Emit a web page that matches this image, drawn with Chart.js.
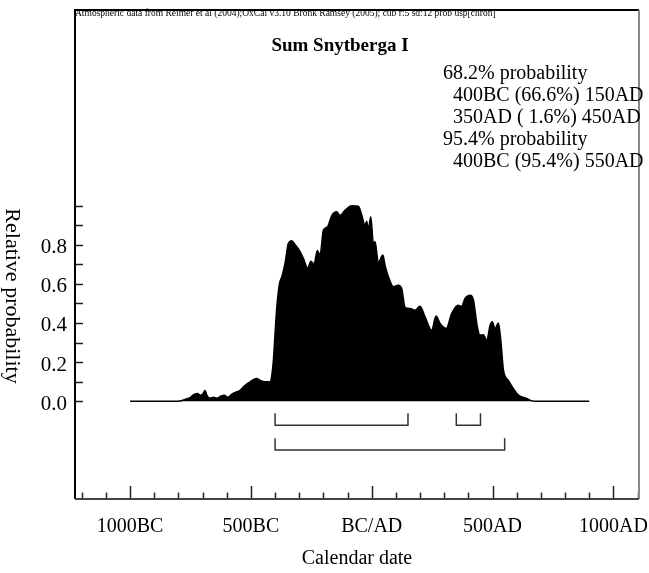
<!DOCTYPE html>
<html>
<head>
<meta charset="utf-8">
<script src="https://cdn.jsdelivr.net/npm/chart.js@4.4.1/dist/chart.umd.min.js"></script>
<style>
  body { margin: 0; background: #fff; }
</style>
</head>
<body>
<canvas id="chartSum" width="649" height="573"></canvas>
<script>
// calendar years (negative = BC) and relative probability
const years = [-1000, -800, -790, -770, -750, -735, -720, -710, -700, -690, -682, -670, -655, -640, -625, -610, -595, -580, -565, -555, -545, -530, -515, -503, -490, -476, -460, -441, -430, -421, -415, -407, -400, -393, -382, -372, -359, -345, -331, -317, -299, -283, -265, -252, -239, -225, -214, -200, -184, -165, -145, -131, -110, -83, -55, -41, -28, -21, -14, -4, 7, 14, 27, 46, 55, 69, 90, 110, 124, 138, 159, 179, 200, 221, 248, 266, 283, 308, 331, 358, 372, 386, 407, 421, 437, 448, 462, 476, 490, 499, 510, 524, 534, 545, 565, 586, 607, 641, 660, 680, 900]
const probs = [0, 0, 0.002, 0.01, 0.02, 0.035, 0.04, 0.03, 0.035, 0.055, 0.03, 0.015, 0.02, 0.015, 0.025, 0.03, 0.02, 0.035, 0.045, 0.05, 0.056, 0.075, 0.09, 0.099, 0.11, 0.116, 0.105, 0.099, 0.1, 0.1, 0.12, 0.21, 0.35, 0.48, 0.60, 0.636, 0.704, 0.807, 0.82, 0.80, 0.77, 0.73, 0.68, 0.716, 0.70, 0.77, 0.747, 0.875, 0.89, 0.95, 0.968, 0.95, 0.977, 0.999, 0.997, 0.95, 0.90, 0.92, 0.88, 0.943, 0.807, 0.815, 0.71, 0.747, 0.696, 0.636, 0.585, 0.593, 0.576, 0.48, 0.474, 0.465, 0.486, 0.43, 0.363, 0.435, 0.397, 0.372, 0.449, 0.49, 0.485, 0.525, 0.542, 0.517, 0.38, 0.338, 0.34, 0.312, 0.389, 0.406, 0.37, 0.40, 0.312, 0.159, 0.107, 0.065, 0.031, 0.014, 0.003, 0, 0]

// highest probability ranges
const range68 = [[-400, 150], [350, 450]]
const range95 = [[-400, 550]]

const xTickYears = [-1000, -500, 0, 500, 1000]
const yTickValues = [0, 0.2, 0.4, 0.6, 0.8]

const headerText = 'Atmospheric data from Reimer et al (2004);OxCal v3.10 Bronk Ramsey (2005); cub r:5 sd:12 prob usp[chron]'
const titleText = 'Sum Snytberga I'
const rangeText = [
  '68.2% probability',
  '  400BC (66.6%) 150AD',
  '  350AD ( 1.6%) 450AD',
  '95.4% probability',
  '  400BC (95.4%) 550AD'
]

Chart.defaults.font.family = "'Liberation Serif', 'DejaVu Serif', serif"
Chart.defaults.color = '#000'

function bracket(r, top, bottom) {
  return {
    data: [{x: r[0], y: top}, {x: r[0], y: bottom}, {x: r[1], y: bottom}, {x: r[1], y: top}],
    borderColor: '#333',
    borderWidth: 1.5,
    pointRadius: 0,
    fill: false,
    tension: 0
  }
}

const datasets = [{
  data: years.map((y, i) => ({x: y, y: probs[i]})),
  borderColor: '#000',
  backgroundColor: '#000',
  borderWidth: 1.5,
  pointRadius: 0,
  fill: 'origin',
  cubicInterpolationMode: 'monotone'
}]
range68.forEach(r => datasets.push(bracket(r, -0.061, -0.123)))
range95.forEach(r => datasets.push(bracket(r, -0.189, -0.25)))

function yearLabel(v) {
  if (v === 0) return 'BC/AD'
  return v < 0 ? (-v) + 'BC' : v + 'AD'
}

function noPad(s) {
  s.paddingLeft = 0
  s.paddingRight = 0
  s.paddingTop = 0
  s.paddingBottom = 0
}

// frame, tick marks and the free text
const oxcalDecor = {
  id: 'oxcalDecor',
  afterDraw(chart) {
    const ctx = chart.ctx
    const a = chart.chartArea
    const xs = chart.scales.x
    const ys = chart.scales.y
    ctx.save()

    // tick marks
    ctx.strokeStyle = '#222'
    ctx.lineWidth = 1.5
    for (let v = -1200; v <= 1100; v += 100) {
      const px = Math.round(xs.getPixelForValue(v)) + 0.5
      const len = v % 500 === 0 ? 13 : 6.5
      ctx.beginPath()
      ctx.moveTo(px, a.bottom)
      ctx.lineTo(px, a.bottom - len)
      ctx.stroke()
    }
    for (let i = 0; i <= 10; i++) {
      const py = Math.round(ys.getPixelForValue(i / 10)) + 0.5
      ctx.beginPath()
      ctx.moveTo(a.left, py)
      ctx.lineTo(a.left + 8, py)
      ctx.stroke()
    }

    // frame
    ctx.lineWidth = 2
    ctx.strokeStyle = '#000'
    ctx.beginPath()
    ctx.moveTo(a.left, a.bottom)
    ctx.lineTo(a.left, a.top)
    ctx.lineTo(a.right, a.top)
    ctx.stroke()
    ctx.strokeStyle = '#888'
    ctx.beginPath()
    ctx.moveTo(a.right, a.top)
    ctx.lineTo(a.right, a.bottom)
    ctx.stroke()
    ctx.strokeStyle = '#444'
    ctx.beginPath()
    ctx.moveTo(a.left, a.bottom)
    ctx.lineTo(a.right, a.bottom)
    ctx.stroke()

    // texts
    ctx.fillStyle = '#000'
    ctx.textBaseline = 'alphabetic'
    ctx.textAlign = 'left'
    ctx.font = "9.5px 'Liberation Serif'"
    ctx.fillText(headerText, a.left, 16)

    ctx.textAlign = 'center'
    ctx.font = "bold 19px 'Liberation Serif'"
    ctx.fillText(titleText, 340, 51)

    ctx.textAlign = 'left'
    ctx.font = "20px 'Liberation Serif'"
    rangeText.forEach((t, i) => ctx.fillText(t, 443, 79 + i * 22))

    ctx.translate(12, 296)
    ctx.rotate(Math.PI / 2)
    ctx.textAlign = 'center'
    ctx.textBaseline = 'middle'
    ctx.font = "22px 'Liberation Serif'"
    ctx.fillText('Relative probability', 0, 0)
    ctx.restore()
  }
}

new Chart(document.getElementById('chartSum'), {
  type: 'line',
  data: { datasets: datasets },
  options: {
    responsive: false,
    animation: false,
    layout: { padding: { top: 10, right: 10, left: 0, bottom: 0 } },
    scales: {
      x: {
        type: 'linear',
        min: -1228,
        max: 1106,
        grid: { display: false, drawTicks: false },
        border: { display: false },
        afterBuildTicks: s => { s.ticks = xTickYears.map(v => ({value: v})) },
        afterFit: s => { s.height = 74; noPad(s) },
        ticks: {
          padding: 16,
          maxRotation: 0,
          autoSkip: false,
          font: { size: 20 },
          callback: v => yearLabel(v)
        },
        title: {
          display: true,
          text: 'Calendar date',
          font: { size: 20 },
          padding: { top: 0, bottom: 2 }
        }
      },
      y: {
        min: -0.5,
        max: 2.0,
        grid: { display: false, drawTicks: false },
        border: { display: false },
        afterBuildTicks: s => { s.ticks = yTickValues.map(v => ({value: v})) },
        afterFit: s => { s.width = 75; noPad(s) },
        ticks: {
          padding: 8,
          labelOffset: 3,
          font: { size: 21 },
          callback: v => v.toFixed(1)
        }
      }
    },
    plugins: {
      legend: { display: false },
      tooltip: { enabled: false }
    }
  },
  plugins: [oxcalDecor]
})
</script>
</body>
</html>
